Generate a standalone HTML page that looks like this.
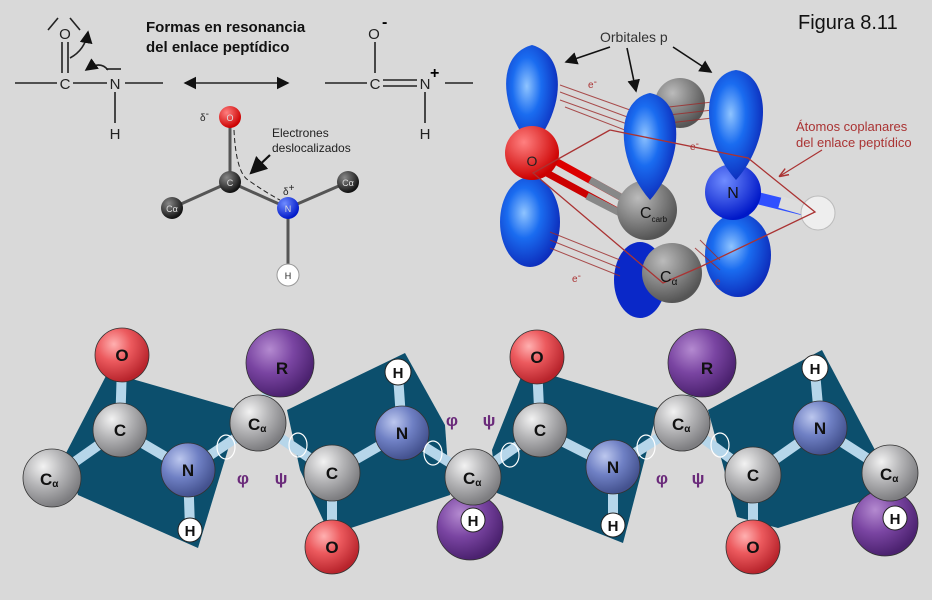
<!DOCTYPE html>
<html><head><meta charset="utf-8"><style>
html,body{margin:0;padding:0;background:#d9d9d9;}
svg{display:block}
text{font-family:"Liberation Sans",sans-serif}
</style></head><body>
<svg width="932" height="600" viewBox="0 0 932 600" xmlns="http://www.w3.org/2000/svg">
<defs>
<radialGradient id="gGray" cx="35%" cy="30%" r="70%"><stop offset="0" stop-color="#f2f2f2"/><stop offset="0.5" stop-color="#b4b4b6"/><stop offset="1" stop-color="#7d7d80"/></radialGradient>
<radialGradient id="gRed" cx="35%" cy="30%" r="70%"><stop offset="0" stop-color="#ffb0b0"/><stop offset="0.45" stop-color="#ec5a5e"/><stop offset="1" stop-color="#b8242c"/></radialGradient>
<radialGradient id="gBlue" cx="35%" cy="30%" r="70%"><stop offset="0" stop-color="#bcc7ee"/><stop offset="0.5" stop-color="#6f80c4"/><stop offset="1" stop-color="#44528f"/></radialGradient>
<radialGradient id="gPur" cx="35%" cy="30%" r="70%"><stop offset="0" stop-color="#b48ad0"/><stop offset="0.5" stop-color="#7a45a2"/><stop offset="1" stop-color="#4c2270"/></radialGradient>
<radialGradient id="gBlk" cx="35%" cy="30%" r="70%"><stop offset="0" stop-color="#888"/><stop offset="1" stop-color="#111"/></radialGradient>
<radialGradient id="gR2" cx="35%" cy="30%" r="70%"><stop offset="0" stop-color="#ff8080"/><stop offset="1" stop-color="#c00"/></radialGradient>
<radialGradient id="gB2" cx="35%" cy="30%" r="70%"><stop offset="0" stop-color="#6f8cff"/><stop offset="1" stop-color="#0018c8"/></radialGradient>
<radialGradient id="gLobe" cx="40%" cy="40%" r="70%"><stop offset="0" stop-color="#8fc4ff"/><stop offset="0.4" stop-color="#1a6cf0"/><stop offset="1" stop-color="#0a1fb0"/></radialGradient>
<radialGradient id="gG2" cx="35%" cy="30%" r="70%"><stop offset="0" stop-color="#bbb"/><stop offset="1" stop-color="#555"/></radialGradient>
<marker id="ah" markerWidth="8" markerHeight="8" refX="7" refY="4" orient="auto"><path d="M0,0 L8,4 L0,8 Z" fill="#111"/></marker>
<marker id="ahs" markerWidth="8" markerHeight="8" refX="7" refY="4" orient="auto-start-reverse"><path d="M0,0 L8,4 L0,8 Z" fill="#111"/></marker>
<marker id="ahr" markerWidth="8" markerHeight="8" refX="7" refY="4" orient="auto"><path d="M0,1 L8,4 L0,7" fill="none" stroke="#a33" stroke-width="1.2"/></marker>
</defs>
<rect width="932" height="600" fill="#d9d9d9"/>

<!-- TOP LEFT resonance -->
<g stroke="#222" stroke-width="1.6" fill="none">
<line x1="15" y1="83" x2="57" y2="83"/><line x1="73" y1="83" x2="107" y2="83"/><line x1="125" y1="83" x2="163" y2="83"/>
<line x1="62" y1="42" x2="62" y2="73"/><line x1="68" y1="42" x2="68" y2="73"/>
<line x1="115" y1="92" x2="115" y2="123"/>
<path d="M48,30 L58,18"/><path d="M70,18 L80,30"/>
<line x1="106" y1="69" x2="121" y2="69"/>
<path d="M70,58 Q85,50 88,32" marker-end="url(#ah)"/>
<path d="M108,70 Q100,60 86,70" marker-end="url(#ah)"/>
<line x1="185" y1="83" x2="288" y2="83" marker-end="url(#ahs)" marker-start="url(#ahs)"/>
<line x1="325" y1="83" x2="367" y2="83"/><line x1="445" y1="83" x2="473" y2="83"/>
<line x1="375" y1="42" x2="375" y2="73"/>
<line x1="383" y1="80" x2="417" y2="80"/><line x1="383" y1="86" x2="417" y2="86"/>
<line x1="425" y1="92" x2="425" y2="123"/>
</g>
<g font-size="15" fill="#222" text-anchor="middle">
<text x="65" y="89">C</text><text x="115" y="89">N</text><text x="115" y="139">H</text><text x="65" y="39">O</text>
<text x="375" y="89">C</text><text x="425" y="89">N</text><text x="425" y="139">H</text><text x="374" y="39">O</text>
</g>
<text x="382" y="27" font-size="16" font-weight="bold">-</text>
<text x="430" y="78" font-size="16" font-weight="bold">+</text>
<text x="146" y="32" font-size="15" font-weight="bold" fill="#111">Formas en resonancia</text>
<text x="146" y="52" font-size="15" font-weight="bold" fill="#111">del enlace peptídico</text>

<!-- ball-stick middle -->
<g stroke="#555" stroke-width="3">
<line x1="230" y1="117" x2="230" y2="182"/><line x1="230" y1="182" x2="172" y2="208"/><line x1="230" y1="182" x2="288" y2="208"/><line x1="288" y1="208" x2="348" y2="182"/><line x1="288" y1="208" x2="288" y2="275"/>
</g>
<path d="M234,130 Q236,172 248,180 Q265,192 280,200" stroke="#222" stroke-width="1" stroke-dasharray="5,3" fill="none"/>
<line x1="270" y1="155" x2="251" y2="173" stroke="#111" stroke-width="2.2" marker-end="url(#ah)"/>
<circle cx="230" cy="117" r="11" fill="url(#gR2)"/><circle cx="230" cy="182" r="11" fill="url(#gBlk)"/>
<circle cx="172" cy="208" r="11" fill="url(#gBlk)"/><circle cx="288" cy="208" r="11" fill="url(#gB2)"/>
<circle cx="348" cy="182" r="11" fill="url(#gBlk)"/><circle cx="288" cy="275" r="11" fill="#fff" stroke="#999"/>
<g font-size="9" fill="#ddd" text-anchor="middle"><text x="230" y="121">O</text><text x="230" y="186">C</text><text x="172" y="212">Cα</text><text x="288" y="212">N</text><text x="348" y="186">Cα</text></g>
<text x="288" y="279" font-size="9" text-anchor="middle" fill="#222">H</text>
<text x="200" y="121" font-size="10" fill="#222">δ<tspan dy="-4">-</tspan></text>
<text x="283" y="195" font-size="10" fill="#222">δ<tspan dy="-4">+</tspan></text>
<text x="272" y="137" font-size="12" fill="#222">Electrones</text>
<text x="272" y="152" font-size="12" fill="#222">deslocalizados</text>

<!-- TOP RIGHT orbitals -->
<text x="798" y="29" font-size="20" fill="#111">Figura 8.11</text>
<text x="600" y="42" font-size="14" fill="#333">Orbitales p</text>
<g stroke="#111" stroke-width="1.6" fill="none">
<line x1="610" y1="47" x2="566" y2="62" marker-end="url(#ah)"/>
<line x1="627" y1="48" x2="636" y2="91" marker-end="url(#ah)"/>
<line x1="673" y1="47" x2="711" y2="72" marker-end="url(#ah)"/>
</g>
<circle cx="680" cy="103" r="25" fill="url(#gG2)"/>
<path d="M532,148 C500,110 495,55 532,45 C568,55 565,110 532,148Z" fill="url(#gLobe)"/>
<ellipse cx="530" cy="222" rx="30" ry="45" fill="url(#gLobe)"/>
<ellipse cx="640" cy="280" rx="26" ry="38" fill="#0a28c8"/>
<ellipse cx="738" cy="255" rx="33" ry="42" fill="url(#gLobe)"/>
<g stroke="#9c2a2a" stroke-width="1" opacity="0.8">
<path d="M560,85 L630,110 M560,92 L630,118 M560,100 L630,125 M565,107 L630,132"/>
<path d="M660,108 L730,100 M660,116 L730,108 M660,124 L730,116"/>
<path d="M550,232 L620,260 M550,240 L620,268 M550,248 L620,276"/>
<path d="M700,240 L720,260 M695,248 L720,270"/>
</g>
<line x1="550" y1="158" x2="635" y2="205" stroke="#d00" stroke-width="7"/>
<line x1="545" y1="172" x2="630" y2="218" stroke="#c00" stroke-width="7"/>
<line x1="590" y1="180" x2="635" y2="205" stroke="#888" stroke-width="7"/>
<line x1="587" y1="196" x2="630" y2="218" stroke="#888" stroke-width="7"/>
<line x1="733" y1="192" x2="818" y2="213" stroke="#3050ff" stroke-width="12"/>
<line x1="780" y1="202" x2="818" y2="213" stroke="#ddd" stroke-width="12"/>
<circle cx="532" cy="153" r="27" fill="url(#gR2)"/>
<circle cx="672" cy="273" r="30" fill="url(#gG2)"/>
<circle cx="647" cy="210" r="30" fill="url(#gG2)"/>
<circle cx="733" cy="192" r="28" fill="url(#gB2)"/>
<circle cx="818" cy="213" r="17" fill="#eee" stroke="#bbb"/>
<path d="M650,200 C615,160 615,100 650,93 C685,100 685,160 650,200Z" fill="url(#gLobe)"/>
<path d="M736,180 C700,140 700,75 736,70 C772,75 772,140 736,180Z" fill="url(#gLobe)"/>
<polyline points="610,130 748,158 815,212 700,267 663,283 533,173 610,130" fill="none" stroke="#a33" stroke-width="1.3"/>
<line x1="822" y1="150" x2="780" y2="176" stroke="#a33" stroke-width="1.2" marker-end="url(#ahr)"/>
<text x="532" y="166" font-size="14" text-anchor="middle" fill="#222">O</text>
<text x="733" y="198" font-size="16" text-anchor="middle" fill="#111">N</text>
<text x="640" y="218" font-size="16" fill="#111">C<tspan font-size="8" dy="4">carb</tspan></text>
<text x="660" y="282" font-size="16" fill="#111">C<tspan font-size="10" dy="3">α</tspan></text>
<g font-size="10" fill="#a33"><text x="588" y="88">e<tspan dy="-3">-</tspan></text><text x="572" y="282">e<tspan dy="-3">-</tspan></text><text x="690" y="150">e<tspan dy="-3">-</tspan></text><text x="715" y="285">e</text></g>
<text x="796" y="131" font-size="13" fill="#a33">Átomos coplanares</text>
<text x="796" y="147" font-size="13" fill="#a33">del enlace peptídico</text>

<!-- BOTTOM chain planes -->
<g fill="#0c4f6d">
<polygon points="108,372 240,410 198,548 78,495 65,455"/>
<polygon points="287,410 405,353 445,425 450,495 330,535 300,470"/>
<polygon points="525,367 658,408 623,543 497,493 492,450"/>
<polygon points="708,410 822,350 875,450 887,493 778,528 737,517"/>
</g>
<!-- bonds -->
<g stroke="#b6d6ea" stroke-width="10" stroke-linecap="round">
<line x1="52" y1="478" x2="120" y2="430"/><line x1="120" y1="430" x2="122" y2="365"/><line x1="120" y1="430" x2="188" y2="470"/><line x1="188" y1="470" x2="190" y2="528"/><line x1="188" y1="470" x2="258" y2="423"/>
<line x1="258" y1="423" x2="270" y2="385"/><line x1="258" y1="423" x2="332" y2="473"/><line x1="332" y1="473" x2="332" y2="537"/><line x1="332" y1="473" x2="402" y2="433"/><line x1="402" y1="433" x2="398" y2="375"/><line x1="402" y1="433" x2="473" y2="477"/>
<line x1="473" y1="477" x2="473" y2="515"/><line x1="473" y1="477" x2="540" y2="430"/><line x1="540" y1="430" x2="537" y2="365"/><line x1="540" y1="430" x2="613" y2="467"/><line x1="613" y1="467" x2="613" y2="522"/><line x1="613" y1="467" x2="682" y2="423"/>
<line x1="682" y1="423" x2="695" y2="385"/><line x1="682" y1="423" x2="753" y2="475"/><line x1="753" y1="475" x2="753" y2="537"/><line x1="753" y1="475" x2="820" y2="428"/><line x1="820" y1="428" x2="815" y2="372"/><line x1="820" y1="428" x2="890" y2="473"/><line x1="890" y1="473" x2="893" y2="515"/>
</g>
<!-- atoms -->
<g stroke="#333" stroke-width="0.8">
<circle cx="122" cy="355" r="27" fill="url(#gRed)"/>
<circle cx="280" cy="363" r="34" fill="url(#gPur)"/>
<circle cx="537" cy="357" r="27" fill="url(#gRed)"/>
<circle cx="702" cy="363" r="34" fill="url(#gPur)"/>
<circle cx="52" cy="478" r="29" fill="url(#gGray)"/>
<circle cx="120" cy="430" r="27" fill="url(#gGray)"/>
<circle cx="188" cy="470" r="27" fill="url(#gBlue)"/>
<circle cx="258" cy="423" r="28" fill="url(#gGray)"/>
<circle cx="402" cy="433" r="27" fill="url(#gBlue)"/>
<circle cx="470" cy="527" r="33" fill="url(#gPur)"/>
<circle cx="332" cy="547" r="27" fill="url(#gRed)"/>
<circle cx="332" cy="473" r="28" fill="url(#gGray)"/>
<circle cx="473" cy="477" r="28" fill="url(#gGray)"/>
<circle cx="540" cy="430" r="27" fill="url(#gGray)"/>
<circle cx="613" cy="467" r="27" fill="url(#gBlue)"/>
<circle cx="682" cy="423" r="28" fill="url(#gGray)"/>
<circle cx="820" cy="428" r="27" fill="url(#gBlue)"/>
<circle cx="885" cy="523" r="33" fill="url(#gPur)"/>
<circle cx="753" cy="547" r="27" fill="url(#gRed)"/>
<circle cx="753" cy="475" r="28" fill="url(#gGray)"/>
<circle cx="890" cy="473" r="28" fill="url(#gGray)"/>
</g>
<g fill="#fff" stroke="#222" stroke-width="1">
<circle cx="190" cy="530" r="12"/><circle cx="398" cy="372" r="13"/><circle cx="473" cy="520" r="12"/><circle cx="613" cy="525" r="12"/><circle cx="815" cy="368" r="13"/><circle cx="895" cy="518" r="12"/>
</g>
<g font-size="17" font-weight="bold" fill="#111" text-anchor="middle">
<text x="122" y="361">O</text><text x="282" y="374">R</text><text x="537" y="363">O</text><text x="707" y="374">R</text>
<text x="120" y="436">C</text><text x="188" y="476">N</text><text x="402" y="439">N</text><text x="332" y="479">C</text><text x="332" y="553">O</text>
<text x="540" y="436">C</text><text x="613" y="473">N</text><text x="820" y="434">N</text><text x="753" y="481">C</text><text x="753" y="553">O</text>
</g>
<g font-size="15" font-weight="bold" fill="#111" text-anchor="middle">
<text x="190" y="536">H</text><text x="398" y="378">H</text><text x="473" y="526">H</text><text x="613" y="531">H</text><text x="815" y="374">H</text><text x="895" y="524">H</text>
</g>
<g font-size="17" font-weight="bold" fill="#111">
<text x="40" y="485">C<tspan font-size="10" dy="2">α</tspan></text>
<text x="248" y="430">C<tspan font-size="10" dy="2">α</tspan></text>
<text x="463" y="484">C<tspan font-size="10" dy="2">α</tspan></text>
<text x="672" y="430">C<tspan font-size="10" dy="2">α</tspan></text>
<text x="880" y="480">C<tspan font-size="10" dy="2">α</tspan></text>
</g>
<g font-size="17" font-weight="bold" fill="#6a2a7a" text-anchor="middle">
<text x="243" y="484">φ</text><text x="281" y="484">ψ</text><text x="452" y="426">φ</text><text x="489" y="426">ψ</text><text x="662" y="484">φ</text><text x="698" y="484">ψ</text>
</g>
<g fill="none" stroke="#fff" stroke-width="1.2">
<ellipse cx="226" cy="447" rx="9" ry="12"/><ellipse cx="298" cy="445" rx="9" ry="12"/>
<ellipse cx="433" cy="453" rx="9" ry="12"/><ellipse cx="510" cy="455" rx="9" ry="12"/>
<ellipse cx="646" cy="447" rx="9" ry="12"/><ellipse cx="720" cy="445" rx="9" ry="12"/>
</g>
</svg>
</body></html>
